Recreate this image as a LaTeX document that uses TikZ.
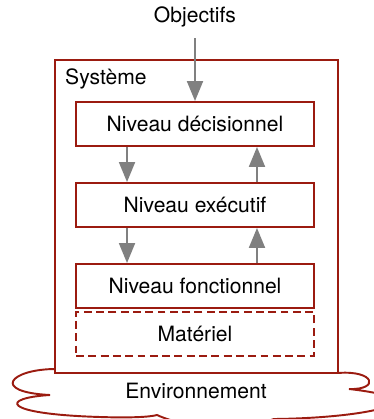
\documentclass[tikz,border=0pt]{standalone}
\usepackage{fontspec}
\setmainfont{TeX Gyre Heros}
\usetikzlibrary{arrows.meta}
\definecolor{bordeaux}{RGB}{155,27,16}
\definecolor{gris}{RGB}{128,128,128}
\begin{document}
\begin{tikzpicture}[
    x=0.02cm, y=-0.02cm,
    font=\fontsize{12}{14}\selectfont,
    niveau/.style={rectangle, draw=bordeaux, line width=1.1pt, fill=white, minimum width=4.76cm, minimum height=0.88cm},
    fleche/.style={-{Triangle[length=0.4cm, width=0.32cm]}, draw=gris, fill=gris, line width=1.1pt}
]
\useasboundingbox (0,0) rectangle (374,419);
\clip (0,0) rectangle (374,419);

% nuage de l'environnement (derriere le systeme)
\draw[bordeaux, line width=1.1pt] (100,360) -- (56,369)
    .. controls (10,369) and (-10,392) .. (50,395)
    .. controls (0,398) and (0,414) .. (100,417)
    .. controls (130,418) and (150,417) .. (157,415)
    .. controls (190,430) and (240,430) .. (274,419)
    .. controls (370,418) and (445,400) .. (349,389)
    .. controls (380,390) and (375,370) .. (338,373)
    -- (300,360) -- cycle;
\node (env) at (196,391) {Environnement};

\node[niveau, minimum width=5.66cm, minimum height=6.26cm] (sys) at (196.5,216.5) {};
\node[anchor=west] (syslabel) at (59,79) {Système};

\node (obj) at (195,17) {Objectifs};

\node[niveau] (dec) at (195,124) {Niveau décisionnel};
\node[niveau] (exe) at (195,205) {Niveau exécutif};
\node[niveau] (fon) at (195,286) {Niveau fonctionnel};
\node[niveau, dash pattern=on 4.5pt off 2.5pt] (mat) at (195,334) {Matériel};

\draw[fleche] ([yshift=-0.1cm]obj.south) -- (dec.north);
\draw[fleche] ([xshift=-1.36cm]dec.south) -- ([xshift=-1.36cm]exe.north);
\draw[fleche] ([xshift=1.24cm]exe.north) -- ([xshift=1.24cm]dec.south);
\draw[fleche] ([xshift=-1.36cm]exe.south) -- ([xshift=-1.36cm]fon.north);
\draw[fleche] ([xshift=1.24cm]fon.north) -- ([xshift=1.24cm]exe.south);
\end{tikzpicture}
\end{document}
